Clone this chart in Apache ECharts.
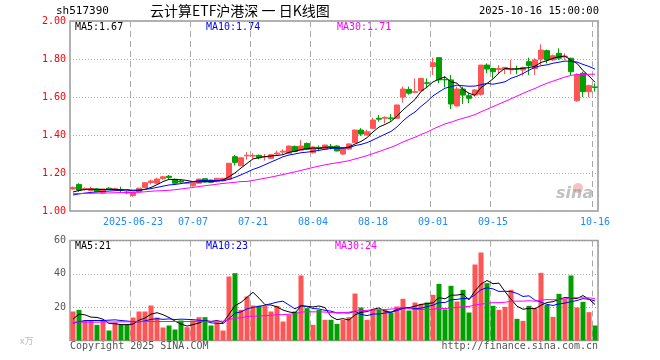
<!DOCTYPE html>
<html><head><meta charset="utf-8">
<script src="https://cdn.jsdelivr.net/npm/echarts@6/dist/echarts.min.js"></script>
<style>html,body{margin:0;padding:0;background:#fff}#c{width:660px;height:360px}</style>
</head><body><div id="c"></div>
<script>
const dates = [
'2025-06-09','2025-06-10','2025-06-11','2025-06-12','2025-06-13','2025-06-16','2025-06-17','2025-06-18','2025-06-19','2025-06-20',
'2025-06-23','2025-06-24','2025-06-25','2025-06-26','2025-06-27','2025-06-30','2025-07-01','2025-07-02','2025-07-03','2025-07-04',
'2025-07-07','2025-07-08','2025-07-09','2025-07-10','2025-07-11','2025-07-14','2025-07-15','2025-07-16','2025-07-17','2025-07-18',
'2025-07-21','2025-07-22','2025-07-23','2025-07-24','2025-07-25','2025-07-28','2025-07-29','2025-07-30','2025-07-31','2025-08-01',
'2025-08-04','2025-08-05','2025-08-06','2025-08-07','2025-08-08','2025-08-11','2025-08-12','2025-08-13','2025-08-14','2025-08-15',
'2025-08-18','2025-08-19','2025-08-20','2025-08-21','2025-08-22','2025-08-25','2025-08-26','2025-08-27','2025-08-28','2025-08-29',
'2025-09-01','2025-09-02','2025-09-03','2025-09-04','2025-09-05','2025-09-08','2025-09-09','2025-09-10','2025-09-11','2025-09-12',
'2025-09-15','2025-09-16','2025-09-17','2025-09-18','2025-09-19','2025-09-22','2025-09-23','2025-09-24','2025-09-25','2025-09-26',
'2025-09-29','2025-09-30','2025-10-09','2025-10-10','2025-10-13','2025-10-14','2025-10-15','2025-10-16'];
const labelDates = ['2025-06-23','2025-07-07','2025-07-21','2025-08-04','2025-08-18','2025-09-01','2025-09-15','2025-10-16'];

const opens = [1.116,1.14,1.113,1.108,1.116,1.096,1.12,1.113,1.113,1.10,
1.081,1.10,1.123,1.15,1.146,1.17,1.183,1.167,1.158,1.146,
1.133,1.146,1.17,1.163,1.154,1.16,1.167,1.286,1.238,1.29,
1.289,1.293,1.284,1.277,1.30,1.31,1.304,1.34,1.32,1.356,
1.307,1.335,1.325,1.34,1.342,1.30,1.326,1.36,1.426,1.40,
1.435,1.488,1.488,1.49,1.488,1.60,1.64,1.625,1.633,1.675,
1.76,1.807,1.692,1.69,1.553,1.642,1.607,1.61,1.614,1.768,
1.75,1.745,1.745,1.743,1.749,1.742,1.786,1.75,1.80,1.844,
1.795,1.83,1.81,1.804,1.58,1.725,1.628,1.653];
const closes = [1.124,1.11,1.118,1.118,1.102,1.116,1.113,1.118,1.108,1.095,
1.098,1.12,1.149,1.158,1.168,1.18,1.176,1.146,1.152,1.15,
1.149,1.168,1.153,1.151,1.172,1.172,1.251,1.256,1.28,1.293,
1.292,1.28,1.287,1.296,1.305,1.315,1.342,1.313,1.342,1.325,
1.337,1.328,1.347,1.338,1.316,1.33,1.353,1.426,1.405,1.417,
1.479,1.483,1.493,1.485,1.558,1.642,1.62,1.628,1.698,1.672,
1.78,1.69,1.69,1.563,1.642,1.61,1.593,1.637,1.768,1.747,
1.733,1.75,1.756,1.75,1.747,1.755,1.765,1.795,1.847,1.795,
1.817,1.804,1.815,1.733,1.716,1.628,1.66,1.65];
const lows = [1.112,1.10,1.108,1.103,1.10,1.09,1.11,1.108,1.10,1.09,
1.075,1.098,1.12,1.14,1.144,1.165,1.168,1.144,1.145,1.143,
1.128,1.144,1.15,1.149,1.152,1.158,1.165,1.24,1.236,1.27,
1.275,1.272,1.265,1.275,1.29,1.298,1.30,1.31,1.318,1.322,
1.302,1.315,1.322,1.325,1.314,1.295,1.322,1.358,1.395,1.398,
1.432,1.47,1.462,1.475,1.486,1.57,1.612,1.62,1.63,1.646,
1.716,1.672,1.65,1.537,1.55,1.563,1.567,1.602,1.607,1.725,
1.698,1.72,1.72,1.72,1.72,1.712,1.716,1.716,1.768,1.777,
1.79,1.795,1.795,1.716,1.575,1.60,1.60,1.628];
const highs = [1.128,1.146,1.125,1.128,1.12,1.118,1.125,1.122,1.128,1.104,
1.10,1.122,1.152,1.165,1.175,1.185,1.19,1.172,1.165,1.152,
1.151,1.17,1.172,1.165,1.174,1.175,1.253,1.295,1.282,1.31,
1.305,1.298,1.30,1.298,1.318,1.325,1.344,1.345,1.374,1.36,
1.34,1.345,1.35,1.353,1.345,1.334,1.356,1.428,1.436,1.428,
1.491,1.505,1.498,1.51,1.56,1.655,1.655,1.698,1.70,1.698,
1.807,1.807,1.71,1.716,1.654,1.654,1.62,1.64,1.768,1.777,
1.752,1.768,1.758,1.795,1.765,1.76,1.807,1.804,1.877,1.85,
1.823,1.856,1.83,1.807,1.725,1.733,1.665,1.672];
const volumes = [17.4,18.4,12,12,9.4,12,6,10.8,9.4,9.4,
13.8,17.4,17.4,21,13.8,7.8,9,6.6,12,8,
12,14,14,9,11,6,38.4,40.4,18.4,26.4,
21,20.8,20.8,17.4,20.8,11.4,15.4,17.4,39,19.4,
9.4,18.4,12.4,12.4,10,12.4,14,28.2,19.8,12.4,
19,18.4,18.4,16.8,20.4,25,18,22.8,22,22.8,
27.4,34,18.7,32.8,23.4,30.4,16.8,45.6,52.8,34.4,
20.8,18.4,20.2,30.4,13,11.8,20.8,19.4,40.6,21.4,
14.2,28,24.8,39,19.8,23.2,17,9];

// legend texts as printed on the chart
const priceMaLabels = ['MA5:1.67', 'MA10:1.74', 'MA30:1.71'];
const volMaLabels = ['MA5:21', 'MA10:23', 'MA30:24'];
const priceTicks = [1.0, 1.2, 1.4, 1.6, 1.8, 2.0];
const volTicks = [0, 20, 40, 60];

// moving-average values at the start of the window (history before the first day)
const ma5Head = [1.10,1.108,1.113,1.115];
const ma10Head = [1.084,1.09,1.094,1.098,1.10,1.103,1.105,1.107,1.109];
const ma30Head = [1.091,1.092,1.093,1.093,1.094,1.094,1.095,1.096,1.097,1.097,
1.098,1.099,1.101,1.104,1.106,1.107,1.109,1.112,1.116,1.12,
1.124,1.129,1.133,1.137,1.141,1.145,1.148,1.151,1.155];
const volMa5Head = [12.8,15.8,15.4,14];
const volMa10Head = [10.4,11.2,12,12,12,12,12.2,12.4,12];
const volMa30Head = [11,11,11,11,11,11.1,11.1,11.1,11.2,11.2,
11.2,11.3,11.3,11.4,11.4,11.4,11.4,11.4,11.4,11.4,
11.4,11.5,11.5,11.5,11.6,11.6,12.5,13.4,13.6];

function movingAvg(vals, n, head) {
  return vals.map((v, i) => {
    if (i < n - 1) return head[i];
    let s = 0;
    for (let k = i - n + 1; k <= i; k++) s += vals[k];
    return +(s / n).toFixed(4);
  });
}
const ma5 = movingAvg(closes, 5, ma5Head);
const ma10 = movingAvg(closes, 10, ma10Head);
const ma30 = movingAvg(closes, 30, ma30Head);
const vma5 = movingAvg(volumes, 5, volMa5Head);
const vma10 = movingAvg(volumes, 10, volMa10Head);
const vma30 = movingAvg(volumes, 30, volMa30Head);

const UP = '#ff5555', DOWN = '#00a000';
const MONO = 'DejaVu Sans Mono';
const labelSet = new Set(labelDates);
const candleData = opens.map((o, i) => [o, closes[i], lows[i], highs[i]]);
const volData = volumes.map((v, i) => ({ value: v, itemStyle: { color: closes[i] >= opens[i] ? UP : DOWN } }));

const chart = echarts.init(document.getElementById('c'));
const grids = [
  { left: 70, top: 21, width: 528, height: 190, show: true, borderColor: '#999', borderWidth: 1.5 },
  { left: 70, top: 240.5, width: 528, height: 100, show: true, borderColor: '#999', borderWidth: 1.5 }
];
function xAx(idx, showLabel) {
  return {
    type: 'category', gridIndex: idx, data: dates, boundaryGap: true,
    axisLine: { show: false }, axisTick: { show: false },
    axisLabel: {
      show: showLabel, interval: (i, v) => labelSet.has(v),
      formatter: v => v === labelDates[0] ? v : v.slice(5),
      color: '#1a8cff', fontFamily: MONO, fontSize: 10, margin: 6
    },
    splitLine: { show: true, interval: (i, v) => labelSet.has(v), lineStyle: { color: '#aaa', type: [6, 4], width: 1 } }
  };
}
const lineS = (name, data, color, xi) => ({
  name, type: 'line', xAxisIndex: xi, yAxisIndex: xi, data, symbol: 'none', silent: true,
  lineStyle: { color, width: 1 }, z: 5
});
const tickInterval = a => a[1] - a[0];
chart.setOption({
  animation: false,
  grid: grids,
  xAxis: [xAx(0, true), xAx(1, false)],
  yAxis: [
    { type: 'value', gridIndex: 0, min: priceTicks[0], max: priceTicks[priceTicks.length - 1], interval: tickInterval(priceTicks),
      axisLine: { show: false }, axisTick: { show: false },
      axisLabel: { formatter: v => v.toFixed(2), color: '#ff0000', fontFamily: MONO, fontSize: 10, margin: 4 },
      splitLine: { show: true, lineStyle: { color: '#aaa', type: [1, 2] } } },
    { type: 'value', gridIndex: 1, min: volTicks[0], max: volTicks[volTicks.length - 1], interval: tickInterval(volTicks),
      axisLine: { show: false }, axisTick: { show: false },
      axisLabel: { formatter: v => v === 0 ? '' : String(v), color: '#555', fontFamily: MONO, fontSize: 10, margin: 4 },
      splitLine: { show: true, lineStyle: { color: '#aaa', type: [1, 2] } } }
  ],
  series: [
    { type: 'candlestick', xAxisIndex: 0, yAxisIndex: 0, data: candleData, barWidth: 5,
      itemStyle: { color: UP, color0: DOWN, borderColor: UP, borderColor0: DOWN, borderWidth: 1 } },
    lineS('MA5', ma5, '#000000', 0),
    lineS('MA10', ma10, '#0000ff', 0),
    lineS('MA30', ma30, '#ff00ff', 0),
    { type: 'bar', xAxisIndex: 1, yAxisIndex: 1, data: volData, barWidth: 5 },
    lineS('VMA5', vma5, '#000000', 1),
    lineS('VMA10', vma10, '#0000ff', 1),
    lineS('VMA30', vma30, '#ff00ff', 1)
  ],
  graphic: [
    { type: 'text', left: 56, top: 6, style: { text: 'sh517390', font: '11px ' + MONO, fill: '#000' } },
    { type: 'text', left: 150, top: 4, style: { text: '云计算ETF沪港深 一 日K线图', font: '14px "Noto Sans CJK SC"', fill: '#000' } },
    { type: 'text', right: 61, top: 6, style: { text: '2025-10-16 15:00:00', font: '10.5px ' + MONO, fill: '#000' } },
    { type: 'text', left: 75, top: 22, style: { text: priceMaLabels[0], font: '10px ' + MONO, fill: '#000' } },
    { type: 'text', left: 206, top: 22, style: { text: priceMaLabels[1], font: '10px ' + MONO, fill: '#0000ff' } },
    { type: 'text', left: 337, top: 22, style: { text: priceMaLabels[2], font: '10px ' + MONO, fill: '#ff00ff' } },
    { type: 'text', left: 75, top: 241, style: { text: volMaLabels[0], font: '10px ' + MONO, fill: '#000' } },
    { type: 'text', left: 206, top: 241, style: { text: volMaLabels[1], font: '10px ' + MONO, fill: '#0000ff' } },
    { type: 'text', left: 335, top: 241, style: { text: volMaLabels[2], font: '10px ' + MONO, fill: '#ff00ff' } },
    { type: 'text', left: 20, top: 336, style: { text: 'x万', font: '9px "Noto Sans CJK SC"', fill: '#bbb' } },
    { type: 'text', left: 70, top: 341, style: { text: 'Copyright 2025 SINA.COM', font: '10px ' + MONO, fill: '#555' } },
    { type: 'text', right: 62, top: 341, style: { text: 'http://finance.sina.com.cn', font: '10px ' + MONO, fill: '#555' } },
    { type: 'circle', shape: { cx: 578, cy: 188, r: 5 }, style: { fill: 'rgba(230,80,80,0.35)' } },
    { type: 'text', left: 556, top: 186, style: { text: 'sina', font: 'italic bold 16px "DejaVu Sans"', fill: 'rgba(150,150,150,0.6)' } }
  ]
});
</script></body></html>
